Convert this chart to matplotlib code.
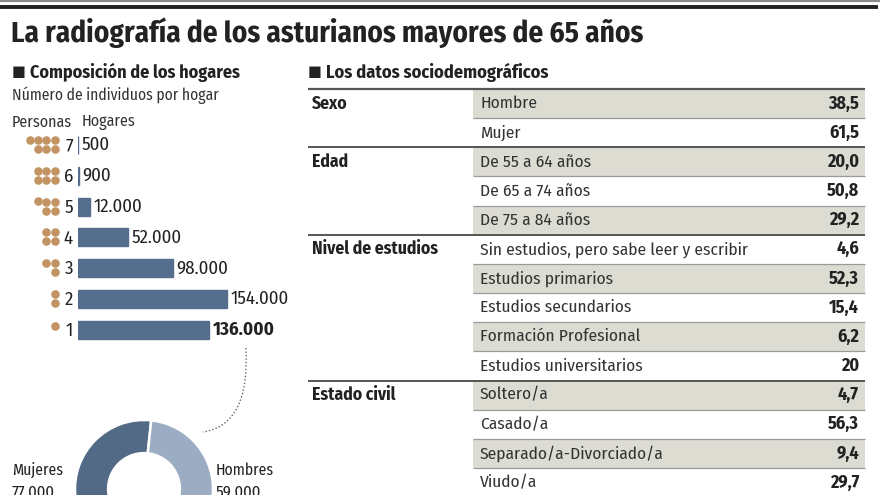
import matplotlib
matplotlib.use("Agg")
import matplotlib.pyplot as plt
from matplotlib.path import Path
from matplotlib.patches import PathPatch, Rectangle

plt.rcParams['font.family'] = ['Fira Sans Condensed', 'DejaVu Sans']

# --- data ---
personas = [7, 6, 5, 4, 3, 2, 1]
hogares = [500, 900, 12000, 52000, 98000, 154000, 136000]

sexo_hogar = ["Mujeres", "Hombres"]
sexo_hogar_vals = [77000, 59000]

grupos = ["Sexo", "Edad", "Nivel de estudios", "Estado civil"]
items = [
    ["Hombre", "Mujer"],
    ["De 55 a 64 años", "De 65 a 74 años", "De 75 a 84 años"],
    ["Sin estudios, pero sabe leer y escribir", "Estudios primarios",
     "Estudios secundarios", "Formación Profesional", "Estudios universitarios"],
    ["Soltero/a", "Casado/a", "Separado/a-Divorciado/a", "Viudo/a"],
]
valores = [
    ["38,5", "61,5"],
    ["20,0", "50,8", "29,2"],
    ["4,6", "52,3", "15,4", "6,2", "20"],
    ["4,7", "56,3", "9,4", "29,7"],
]

# --- colours ---
BAR = "#566e8d"
DOT = "#c39463"
DARK = "#536a86"
LIGHT = "#9cacc2"
SHADE = "#dcdcd3"
TXT = "#222222"

W, H = 880, 495
fig = plt.figure(figsize=(W / 100, H / 100), dpi=100)
fig.patch.set_facecolor("white")


def px_axes(x, y, w, h):
    # axes placed in pixel units (origin top-left)
    return fig.add_axes([x / W, 1 - (y + h) / H, w / W, h / H])


def miles(v):
    return f"{v:,}".replace(",", ".")


# overlay in pixel coordinates for text and rules
ov = px_axes(0, 0, W, H)
ov.set_xlim(0, W)
ov.set_ylim(H, 0)
ov.axis("off")

# top rules and title
ov.plot([0, W], [1, 1], color="#8c8c8c", lw=1.6, solid_capstyle="butt")
ov.plot([0, 878], [6.5, 6.5], color="#222222", lw=2.8, solid_capstyle="butt")
ov.text(11, 33, "La radiografía de los asturianos mayores de 65 años",
        fontsize=21, fontweight="bold", color=TXT, va="center", ha="left")

# left block headers
ov.text(12, 72, "■", fontsize=10.5, color=TXT, va="center", family="DejaVu Sans")
ov.text(30, 72, "Composición de los hogares", fontsize=13, fontweight="bold",
        color=TXT, va="center")
ov.text(12, 95, "Número de individuos por hogar", fontsize=11.2, color="#333333", va="center")
ov.text(12, 122, "Personas", fontsize=11.5, color="#333333", va="center")
ov.text(82, 122, "Hogares", fontsize=11.5, color="#333333", va="center")

# bar chart
ROW0, STEP = 145, 30.8
BAR_X, BAR_W = 78, 200
axb = px_axes(BAR_X, ROW0 - STEP / 2, BAR_W, STEP * len(personas))
axb.barh(range(len(personas)), hogares, height=0.58, color=BAR,
         edgecolor=BAR, linewidth=1.0)
axb.set_xlim(0, BAR_W * 1035)
axb.set_ylim(len(personas) - 0.5, -0.5)
axb.axis("off")
for i, v in enumerate(hogares):
    axb.annotate(miles(v), (v, i), xytext=(2.5, 0), textcoords="offset points",
                 va="center", ha="left", fontsize=13.5, color=TXT,
                 fontweight="bold" if i == len(personas) - 1 else "normal",
                 annotation_clip=False)

# people pictograms
for i, n in enumerate(personas):
    yc = ROW0 + i * STEP
    ov.text(73, yc + 1, str(n), fontsize=13.5, color=TXT, ha="right", va="center")
    xs, ys = [], []
    pairs, extra = n // 2, n % 2
    for c in range(pairs):
        x = 54.5 - c * 8.3
        xs += [x, x]
        ys += [yc - 5, yc + 4]
    if extra:
        xs.append(54.5 - pairs * 8.3)
        ys.append(yc - 5.5 if pairs else yc - 4)
    ov.scatter(xs, ys, s=38, color=DOT, linewidths=0, zorder=3)

# dotted connector from the 1-person bar to the donut
verts = [(246, 348), (250, 425), (203, 432)]
ov.add_patch(PathPatch(Path(verts, [Path.MOVETO, Path.CURVE3, Path.CURVE3]),
                       fill=False, ls=(0, (1, 1.5)), lw=1.0, color="#666666"))

# donut
R = 69
axp = px_axes(144 - R, 489 - R, 2 * R, 2 * R)
axp.pie(sexo_hogar_vals, colors=[DARK, LIGHT], startangle=84, radius=1,
        wedgeprops=dict(width=0.48, edgecolor="white", linewidth=1.8))
axp.set_xlim(-1, 1)
axp.set_ylim(-1, 1)
axp.set_aspect("equal")
axp.axis("off")

ov.text(12, 470, sexo_hogar[0], fontsize=11.3, color=TXT, va="center")
ov.text(12, 492, miles(sexo_hogar_vals[0]), fontsize=12, color=TXT, va="center")
ov.text(216, 470, sexo_hogar[1], fontsize=11.3, color=TXT, va="center")
ov.text(216, 492, miles(sexo_hogar_vals[1]), fontsize=12, color=TXT, va="center")

# socio-demographic table
ov.text(308, 72, "■", fontsize=10.5, color=TXT, va="center", family="DejaVu Sans")
ov.text(326, 72, "Los datos sociodemográficos", fontsize=13.2, fontweight="bold",
        color=TXT, va="center")

T_TOP, T_ROW = 89, 29.15
X0, XS, X1 = 308, 473, 865
ov.plot([X0, X1], [T_TOP, T_TOP], color="#555555", lw=1.6, solid_capstyle="butt")
r = 0
for g, (grp, its, vals) in enumerate(zip(grupos, items, valores)):
    y_first = T_TOP + r * T_ROW
    ov.text(312, y_first + T_ROW / 2, grp, fontsize=12.7, fontweight="bold",
            color=TXT, va="center")
    for k, (it, val) in enumerate(zip(its, vals)):
        top = T_TOP + r * T_ROW
        if r % 2 == 0:
            ov.add_patch(Rectangle((XS, top), X1 - XS, T_ROW, color=SHADE, lw=0, zorder=0))
        ov.text(480, top + T_ROW / 2, it, fontsize=12.5, color="#333333", va="center")
        ov.text(859, top + T_ROW / 2, val, fontsize=13, fontweight="bold",
                color=TXT, va="center", ha="right")
        r += 1
        bottom = T_TOP + r * T_ROW
        if k == len(its) - 1:
            ov.plot([X0, X1], [bottom, bottom], color="#555555", lw=1.4,
                    solid_capstyle="butt")
        else:
            ov.plot([XS, X1], [bottom, bottom], color="#9a9a9a", lw=0.9,
                    solid_capstyle="butt")

fig.savefig("out.png", dpi=100)
